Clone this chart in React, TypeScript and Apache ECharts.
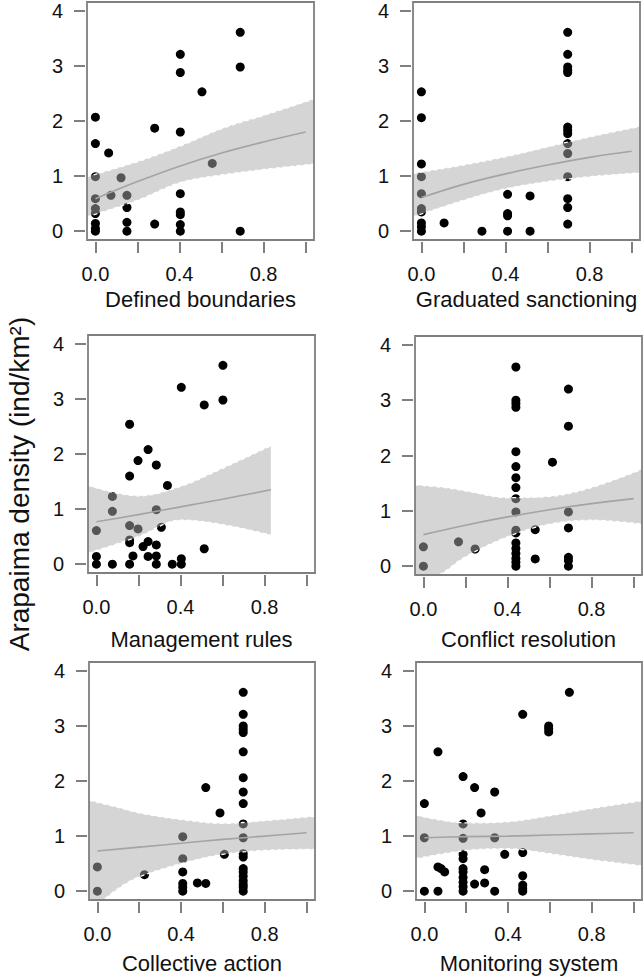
import React, { useEffect, useRef } from "react";
import * as echarts from "echarts";

// ---------- axis ticks ----------
const xTickVals = [0, 0.2, 0.4, 0.6, 0.8, 1.0];
const xLabelVals = [0, 0.4, 0.8];
const yTickVals = [0, 1, 2, 3, 4];

const yTitle = "Arapaima density (ind/km²)";

// ---------- Panel 1: Defined boundaries ----------
const boundariesX = [0, 0, 0, 0, 0, 0, 0, 0, 0, 0.063, 0.074, 0.122, 0.15, 0.15, 0.15, 0.15, 0.282, 0.282, 0.404, 0.404, 0.404, 0.404, 0.404, 0.404, 0.404, 0.404, 0.507, 0.556, 0.689, 0.689, 0.689];
const boundariesY = [2.07, 1.59, 0.99, 0.59, 0.41, 0.32, 0.14, 0.05, 0, 1.42, 0.65, 0.97, 0.65, 0.43, 0.16, 0, 1.87, 0.13, 3.21, 2.88, 1.8, 0.68, 0.35, 0.3, 0.12, 0, 2.53, 1.23, 3.61, 2.98, 0];
const boundariesFitX = [0, 0.2, 0.4, 0.6, 0.8, 1.0];
const boundariesFit = [0.59, 0.9, 1.18, 1.42, 1.62, 1.8];
const boundariesBandX = [-0.04, 0.2, 0.4, 0.6, 0.8, 1.04];
const boundariesLower = [0.26, 0.56, 0.88, 1.02, 1.12, 1.22];
const boundariesUpper = [0.99, 1.26, 1.54, 1.86, 2.1, 2.4];

// ---------- Panel 2: Graduated sanctioning ----------
const sanctionX = [0, 0, 0, 0, 0, 0, 0, 0, 0, 0, 0.108, 0.288, 0.41, 0.41, 0.41, 0.41, 0.517, 0.517, 0.696, 0.696, 0.696, 0.696, 0.696, 0.696, 0.696, 0.696, 0.696, 0.696, 0.696, 0.696, 0.696, 0.696];
const sanctionY = [2.53, 2.06, 1.22, 0.99, 0.68, 0.41, 0.35, 0.15, 0.08, 0, 0.15, 0, 0.67, 0.32, 0.28, 0, 0.64, 0, 3.61, 3.21, 2.98, 2.92, 2.88, 1.89, 1.83, 1.77, 1.59, 1.41, 0.99, 0.59, 0.43, 0.13];
const sanctionFitX = [0, 0.2, 0.4, 0.6, 0.8, 1.0];
const sanctionFit = [0.61, 0.85, 1.04, 1.2, 1.34, 1.45];
const sanctionBandX = [-0.04, 0.2, 0.4, 0.6, 0.8, 1.04];
const sanctionLower = [0.26, 0.56, 0.77, 0.9, 0.99, 1.06];
const sanctionUpper = [1.05, 1.2, 1.35, 1.53, 1.71, 1.9];

// ---------- Panel 3: Management rules ----------
const rulesX = [0, 0, 0, 0.076, 0.076, 0.076, 0.158, 0.158, 0.158, 0.158, 0.158, 0.158, 0.174, 0.198, 0.198, 0.222, 0.246, 0.246, 0.246, 0.285, 0.285, 0.285, 0.285, 0.285, 0.309, 0.338, 0.361, 0.404, 0.404, 0.404, 0.513, 0.513, 0.602, 0.602];
const rulesY = [0.61, 0.14, 0, 1.23, 0.96, 0, 2.54, 1.6, 0.7, 0.44, 0.39, 0, 0.15, 1.88, 0.64, 0.32, 2.08, 0.41, 0.14, 1.8, 0.99, 0.35, 0.15, 0, 0.67, 1.43, 0, 3.21, 0.1, 0, 2.89, 0.28, 3.61, 2.98];
const rulesFitX = [0, 0.2, 0.4, 0.6, 0.83];
const rulesFit = [0.77, 0.9, 1.04, 1.18, 1.35];
const rulesBandX = [-0.04, 0.2, 0.4, 0.6, 0.83];
const rulesLower = [0.2, 0.5, 0.8, 0.72, 0.53];
const rulesUpper = [1.43, 1.24, 1.41, 1.74, 2.15];

// ---------- Panel 4: Conflict resolution ----------
const conflictX = [0, 0, 0.167, 0.246, 0.44, 0.44, 0.44, 0.44, 0.44, 0.44, 0.44, 0.44, 0.44, 0.44, 0.44, 0.44, 0.44, 0.44, 0.44, 0.44, 0.44, 0.44, 0.532, 0.532, 0.614, 0.69, 0.69, 0.69, 0.69, 0.69, 0.69, 0.69];
const conflictY = [0.35, 0, 0.44, 0.31, 3.6, 3.0, 2.94, 2.87, 2.07, 1.8, 1.6, 1.42, 1.22, 0.98, 0.65, 0.6, 0.42, 0.32, 0.23, 0.14, 0.07, 0, 0.66, 0.13, 1.88, 3.2, 2.53, 0.98, 0.69, 0.16, 0.1, 0];
const conflictFitX = [0, 0.2, 0.4, 0.6, 0.8, 1.0];
const conflictFit = [0.57, 0.74, 0.89, 1.02, 1.13, 1.22];
const conflictBandX = [-0.04, 0.1, 0.2, 0.4, 0.6, 0.8, 1.04];
const conflictLower = [-0.42, -0.1, 0.17, 0.53, 0.76, 0.83, 0.76];
const conflictUpper = [1.47, 1.42, 1.36, 1.24, 1.26, 1.42, 1.75];

// ---------- Panel 5: Collective action ----------
const collectiveX = [0, 0, 0.225, 0.408, 0.408, 0.408, 0.408, 0.408, 0.408, 0.478, 0.518, 0.518, 0.586, 0.607, 0.697, 0.697, 0.697, 0.697, 0.697, 0.697, 0.697, 0.697, 0.697, 0.697, 0.697, 0.697, 0.697, 0.697, 0.697, 0.697, 0.697, 0.697, 0.697, 0.697];
const collectiveY = [0.44, 0, 0.3, 0.99, 0.59, 0.35, 0.14, 0.07, 0, 0.15, 1.88, 0.14, 1.42, 0.67, 3.61, 3.21, 3.0, 2.94, 2.88, 2.53, 2.06, 1.8, 1.59, 1.22, 0.97, 0.68, 0.62, 0.41, 0.35, 0.27, 0.19, 0.12, 0.07, 0];
const collectiveFitX = [0, 0.2, 0.4, 0.6, 0.8, 1.0];
const collectiveFit = [0.73, 0.8, 0.87, 0.94, 1.0, 1.06];
const collectiveBandX = [-0.04, 0.1, 0.2, 0.4, 0.6, 0.8, 1.04];
const collectiveLower = [-0.38, 0.05, 0.26, 0.5, 0.67, 0.74, 0.76];
const collectiveUpper = [1.65, 1.52, 1.42, 1.3, 1.23, 1.28, 1.36];

// ---------- Panel 6: Monitoring system ----------
const monitoringX = [0, 0, 0, 0.065, 0.065, 0.065, 0.08, 0.097, 0.185, 0.185, 0.185, 0.185, 0.185, 0.185, 0.185, 0.185, 0.185, 0.185, 0.185, 0.24, 0.24, 0.271, 0.288, 0.288, 0.336, 0.336, 0.336, 0.384, 0.47, 0.47, 0.47, 0.47, 0.47, 0.47, 0.594, 0.594, 0.594, 0.693];
const monitoringY = [1.59, 0.97, 0, 2.53, 0.44, 0, 0.41, 0.35, 2.08, 1.22, 0.96, 0.67, 0.59, 0.41, 0.35, 0.25, 0.16, 0.08, 0, 1.88, 0.13, 1.42, 0.39, 0.15, 1.8, 0.97, 0, 0.67, 3.21, 0.7, 0.28, 0.11, 0.05, 0, 3.0, 2.95, 2.89, 3.61];
const monitoringFitX = [0, 0.2, 0.4, 0.6, 0.8, 1.0];
const monitoringFit = [0.97, 0.99, 1.0, 1.02, 1.04, 1.06];
const monitoringBandX = [-0.04, 0.2, 0.4, 0.6, 0.8, 1.04];
const monitoringLower = [0.59, 0.74, 0.77, 0.68, 0.57, 0.46];
const monitoringUpper = [1.38, 1.24, 1.26, 1.37, 1.5, 1.64];

const panels = [
  { name: "Defined boundaries", px: boundariesX, py: boundariesY, fx: boundariesFitX, fy: boundariesFit, bx: boundariesBandX, lo: boundariesLower, hi: boundariesUpper },
  { name: "Graduated sanctioning", px: sanctionX, py: sanctionY, fx: sanctionFitX, fy: sanctionFit, bx: sanctionBandX, lo: sanctionLower, hi: sanctionUpper },
  { name: "Management rules", px: rulesX, py: rulesY, fx: rulesFitX, fy: rulesFit, bx: rulesBandX, lo: rulesLower, hi: rulesUpper },
  { name: "Conflict resolution", px: conflictX, py: conflictY, fx: conflictFitX, fy: conflictFit, bx: conflictBandX, lo: conflictLower, hi: conflictUpper },
  { name: "Collective action", px: collectiveX, py: collectiveY, fx: collectiveFitX, fy: collectiveFit, bx: collectiveBandX, lo: collectiveLower, hi: collectiveUpper },
  { name: "Monitoring system", px: monitoringX, py: monitoringY, fx: monitoringFitX, fy: monitoringFit, bx: monitoringBandX, lo: monitoringLower, hi: monitoringUpper },
];

// layout of the six plot boxes
const gridBoxes = [
  { left: 87, top: 2, width: 227, height: 238, gap: 46 },
  { left: 413, top: 2, width: 227, height: 238, gap: 46 },
  { left: 88, top: 335, width: 227, height: 238, gap: 53 },
  { left: 415, top: 336, width: 227, height: 239, gap: 51 },
  { left: 89, top: 662, width: 226, height: 238, gap: 50 },
  { left: 416, top: 662, width: 226, height: 238, gap: 50 },
];

const FONT = "'Liberation Sans', Arial, Helvetica, sans-serif";
const TICK = { color: "#555", width: 1.5 };

function zip(a: number[], b: number[]) {
  return a.map((v, i) => [v, b[i]]);
}

function buildOption() {
  const grid: any[] = [];
  const xAxis: any[] = [];
  const yAxis: any[] = [];
  const series: any[] = [];
  const boxes: any[] = [];

  panels.forEach((p, i) => {
    const g = gridBoxes[i];
    grid.push({ left: g.left, top: g.top, width: g.width, height: g.height, show: false });

    // plot frame
    boxes.push({
      type: "rect",
      shape: { x: g.left, y: g.top, width: g.width, height: g.height },
      style: { fill: "none", stroke: "#7f7f7f", lineWidth: 1.8 },
      z: 10,
      silent: true,
    });

    xAxis.push({
      type: "value",
      gridIndex: i,
      position: "bottom",
      min: -0.04,
      max: 1.04,
      offset: 2,
      axisLine: { show: false, onZero: false },
      splitLine: { show: false },
      axisTick: { show: true, length: 11, lineStyle: TICK, customValues: xTickVals },
      axisLabel: {
        customValues: xLabelVals,
        formatter: (v: number) => v.toFixed(1),
        fontSize: 20,
        color: "#111",
        margin: 22,
        fontFamily: FONT,
      },
      name: p.name,
      nameLocation: "middle",
      nameGap: g.gap,
      nameTextStyle: { fontSize: 22, color: "#111", fontFamily: FONT },
    });
    yAxis.push({
      type: "value",
      gridIndex: i,
      position: "left",
      min: -0.16,
      max: 4.16,
      offset: 2,
      axisLine: { show: false, onZero: false },
      splitLine: { show: false },
      axisTick: { show: true, length: 11, lineStyle: TICK, customValues: yTickVals },
      axisLabel: {
        customValues: yTickVals,
        formatter: (v: number) => String(Math.round(v)),
        fontSize: 20,
        color: "#111",
        margin: 22,
        fontFamily: FONT,
      },
    });

    series.push({
      type: "scatter",
      xAxisIndex: i,
      yAxisIndex: i,
      data: zip(p.px, p.py),
      symbol: "circle",
      symbolSize: 9,
      itemStyle: { color: "#000", opacity: 1 },
      z: 1,
      silent: true,
    });

    const dashed = { color: "#ffffff", width: 1.3, type: [4, 3] };
    // confidence band: lower bound + (upper - lower) stacked on the y values
    series.push({
      type: "line",
      xAxisIndex: i,
      yAxisIndex: i,
      data: zip(p.lo, p.bx),
      encode: { x: 1, y: 0 },
      stack: "band" + i,
      stackStrategy: "all",
      symbol: "none",
      smooth: 0.35,
      lineStyle: dashed,
      z: 2,
      silent: true,
    });
    series.push({
      type: "line",
      xAxisIndex: i,
      yAxisIndex: i,
      data: zip(p.hi.map((h, k) => h - p.lo[k]), p.bx),
      encode: { x: 1, y: 0 },
      stack: "band" + i,
      stackStrategy: "all",
      symbol: "none",
      smooth: 0.35,
      lineStyle: dashed,
      areaStyle: { color: "rgb(172,172,172)", opacity: 0.5 },
      z: 2,
      silent: true,
    });
    series.push({
      type: "line",
      xAxisIndex: i,
      yAxisIndex: i,
      data: zip(p.fx, p.fy),
      symbol: "none",
      smooth: 0.35,
      lineStyle: { color: "#a4a4a4", width: 1.6 },
      z: 3,
      silent: true,
    });
  });

  return {
    animation: false,
    backgroundColor: "#fff",
    textStyle: { fontFamily: FONT },
    grid,
    xAxis,
    yAxis,
    series,
    graphic: [
      ...boxes,
      {
        type: "text",
        x: 19,
        y: 484,
        rotation: Math.PI / 2,
        style: {
          text: yTitle,
          fontSize: 28,
          fill: "#111",
          fontFamily: FONT,
          align: "center",
          verticalAlign: "middle",
        },
      },
    ],
  };
}

export default function App() {
  const ref = useRef<HTMLDivElement>(null);
  useEffect(() => {
    const chart = echarts.init(ref.current!, null, { renderer: "svg" });
    chart.setOption(buildOption() as any);
    return () => chart.dispose();
  }, []);
  return (
    <div
      ref={ref}
      style={{ position: "absolute", left: 0, top: 0, width: 644, height: 976, background: "#fff" }}
    />
  );
}
